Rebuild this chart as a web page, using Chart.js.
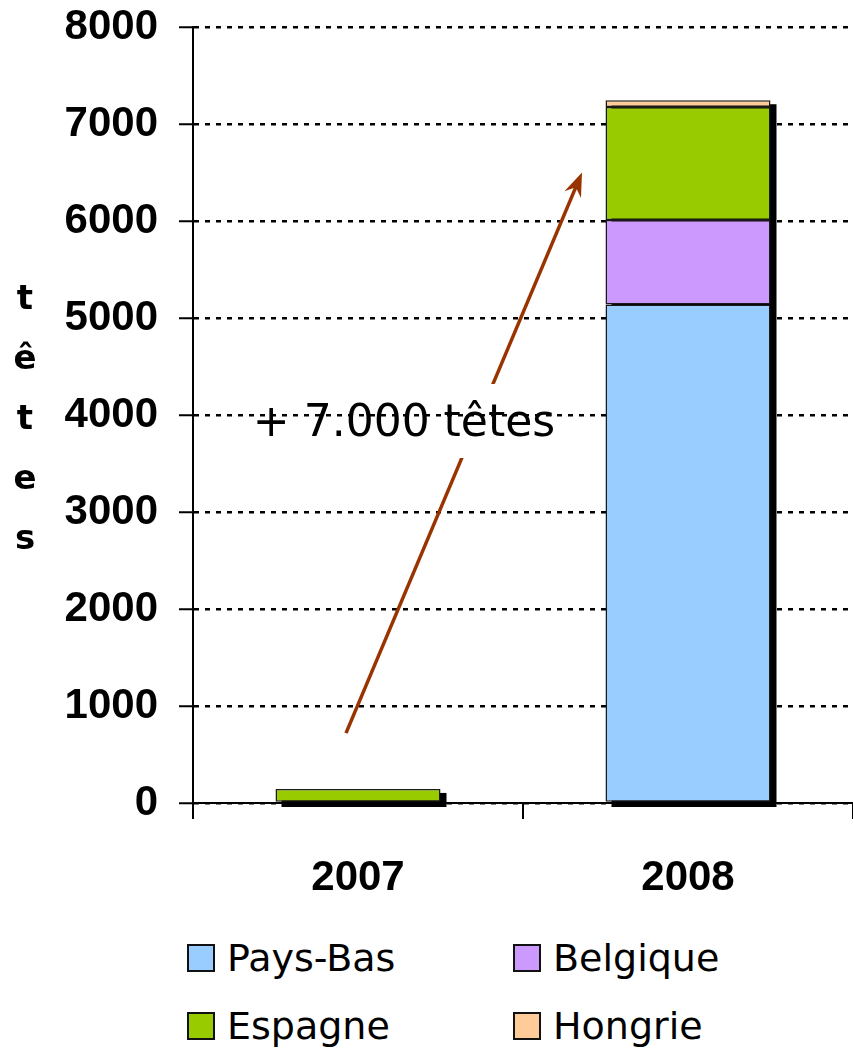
<!DOCTYPE html>
<html>
<head>
<meta charset="utf-8">
<script src="https://cdn.jsdelivr.net/npm/chart.js@4.4.0/dist/chart.umd.min.js"></script>
<style>
    html, body { margin: 0; padding: 0; background: #fff; }
    #wrap { position: relative; width: 853px; height: 920px; }
    #legend {
        display: grid;
        grid-template-columns: 326px 326px;
        grid-auto-rows: 68px;
        padding: 4px 0 0 187px;
        font-family: "DejaVu Sans", sans-serif;
        font-size: 38px;
        color: #000;
    }
    .item { display: flex; align-items: center; }
    .box { width: 28px; height: 28px; border: 2px solid #111; margin-right: 12px; box-sizing: border-box; }
</style>
</head>
<body>
<div id="wrap"><canvas id="chart"></canvas></div>
<div id="legend"></div>
<script>
// Data (heads per country)
const years = ['2007', '2008'];
const paysBas = [0, 5140];
const belgique = [0, 870];
const espagne = [145, 1165];
const hongrie = [0, 70];
const yTicks = [0, 1000, 2000, 3000, 4000, 5000, 6000, 7000, 8000];
const yTitle = 'têtes';
const annotation = '+ 7.000 têtes';

const series = [
    { label: 'Pays-Bas', data: paysBas, color: '#99CCFF' },
    { label: 'Belgique', data: belgique, color: '#CC99FF' },
    { label: 'Espagne', data: espagne, color: '#99CC00' },
    { label: 'Hongrie', data: hongrie, color: '#FFCC99' }
];

// Black drop shadow behind each stacked column
const shadowPlugin = {
    id: 'shadow',
    beforeDatasetsDraw(chart) {
        const ctx = chart.ctx;
        const ys = chart.scales.y;
        const meta = chart.getDatasetMeta(0);
        ctx.save();
        ctx.fillStyle = '#000';
        years.forEach((y, i) => {
            const total = series.reduce((s, d) => s + d.data[i], 0);
            const bar = meta.data[i];
            const top = ys.getPixelForValue(total);
            const bottom = ys.getPixelForValue(0);
            const left = bar.x - bar.width / 2;
            ctx.fillRect(left + 6, top + 4, bar.width, bottom - top);
        });
        ctx.restore();
    }
};

// Arrow with the "+ 7.000 têtes" label, and the stacked y title
const decorPlugin = {
    id: 'decor',
    afterDatasetsDraw(chart) {
        const ctx = chart.ctx;
        const xs = chart.scales.x;
        const ys = chart.scales.y;
        const x0 = xs.getPixelForValue(0) - 12, y0 = ys.getPixelForValue(720);
        const x1 = xs.getPixelForValue(1) - 106, y1 = ys.getPixelForValue(6500);

        ctx.save();
        // gap where the label sits
        ctx.beginPath();
        ctx.rect(0, 0, chart.width, chart.height);
        ctx.rect(240, 384, 330, 74);
        ctx.clip('evenodd');
        const ang = Math.atan2(y1 - y0, x1 - x0);
        ctx.strokeStyle = '#993300';
        ctx.fillStyle = '#993300';
        ctx.lineWidth = 3.5;
        ctx.beginPath();
        ctx.moveTo(x0, y0);
        ctx.lineTo(x1 - 14 * Math.cos(ang), y1 - 14 * Math.sin(ang));
        ctx.stroke();
        // stealth arrow head
        ctx.translate(x1, y1);
        ctx.rotate(ang);
        ctx.beginPath();
        ctx.moveTo(0, 0);
        ctx.lineTo(-24, -9);
        ctx.lineTo(-16, 0);
        ctx.lineTo(-24, 9);
        ctx.closePath();
        ctx.fill();
        ctx.restore();

        ctx.save();
        ctx.fillStyle = '#000';
        ctx.font = '44px "DejaVu Sans", sans-serif';
        ctx.textAlign = 'center';
        ctx.textBaseline = 'middle';
        ctx.fillText(annotation, chart.chartArea.left + 211, ys.getPixelForValue(3900));
        ctx.restore();

        ctx.save();
        ctx.fillStyle = '#000';
        ctx.font = 'bold 34px "DejaVu Sans", sans-serif';
        ctx.textAlign = 'center';
        ctx.textBaseline = 'middle';
        yTitle.split('').forEach((ch, i) => {
            ctx.fillText(ch, 25, 300 + i * 60);
        });
        ctx.restore();
    }
};

const tickFont = { family: '"Liberation Sans", Arial, sans-serif', size: 42, weight: 'bold' };

new Chart(document.getElementById('chart'), {
    type: 'bar',
    data: {
        labels: years,
        datasets: series.map(s => ({
            label: s.label,
            data: s.data,
            backgroundColor: s.color,
            borderColor: '#1a1a1a',
            borderWidth: 1.5,
            borderSkipped: false,
            categoryPercentage: 1,
            barPercentage: 0.5
        }))
    },
    options: {
        responsive: true,
        maintainAspectRatio: false,
        animation: false,
        layout: { padding: { top: 27, right: 0, bottom: 0, left: 0 } },
        plugins: {
            legend: { display: false },
            tooltip: { enabled: false }
        },
        scales: {
            x: {
                stacked: true,
                afterFit(scale) {
                    scale.height = 117;
                    scale.paddingLeft = 0;
                    scale.paddingRight = 0;
                },
                grid: {
                    offset: true,
                    drawOnChartArea: false,
                    color: '#000',
                    lineWidth: 2,
                    tickLength: 16
                },
                border: { color: '#000', width: 2 },
                ticks: { color: '#000', font: tickFont, padding: 34 }
            },
            y: {
                stacked: true,
                min: 0,
                max: 8000,
                afterFit(scale) {
                    scale.width = 193;
                    scale.paddingTop = 0;
                    scale.paddingBottom = 0;
                },
                afterBuildTicks(scale) { scale.ticks = yTicks.map(v => ({ value: v })); },
                grid: {
                    color: '#000',
                    lineWidth: 2.5,
                    tickLength: 14,
                    tickWidth: 2
                },
                border: { color: '#000', width: 2, dash: [5, 6] },
                ticks: {
                    color: '#000',
                    font: tickFont,
                    padding: 21,
                    callback: v => String(v)
                }
            }
        }
    },
    plugins: [shadowPlugin, decorPlugin]
});

// HTML legend, two columns as in the original
const legend = document.getElementById('legend');
series.forEach(s => {
    const item = document.createElement('div');
    item.className = 'item';
    item.innerHTML = '<span class="box" style="background:' + s.color + '"></span>' + s.label;
    legend.appendChild(item);
});
</script>
</body>
</html>
